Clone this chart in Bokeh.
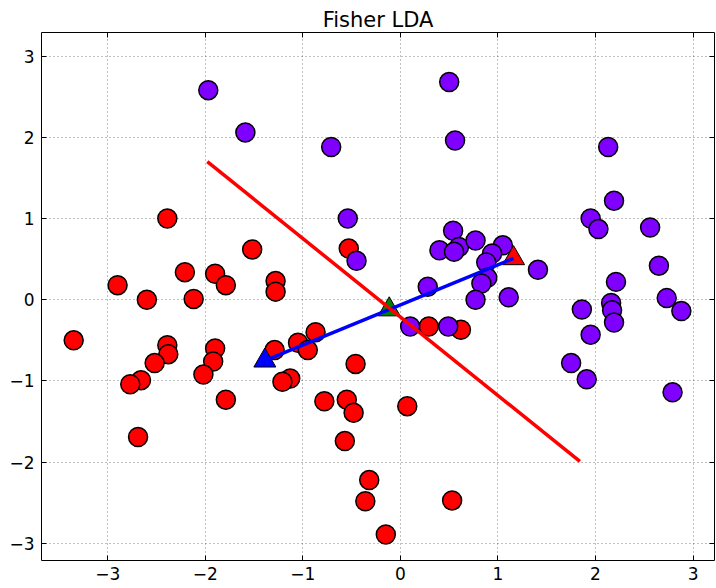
from bokeh.plotting import figure
from bokeh.models import FixedTicker, LinearAxis, Range1d
from bokeh.embed import file_html
from bokeh.resources import INLINE

# ---- data ----
red_x = [-2.39, -1.52, -2.90, -2.60, -2.21, -2.12, -1.90, -1.79, -1.28, -1.28,
         -0.53, -3.35, -2.39, -2.38, -2.52, -2.66, -2.77, -2.69, -1.90, -1.92,
         -2.02, -1.79, -1.29, -1.13, -1.21, -1.05, -0.95, -0.87, -0.46, -0.78,
         -0.55, -0.48, -0.57, 0.29, 0.62, 0.07, 0.53, -0.15, -0.32, -0.36]
red_y = [1.00, 0.62, 0.18, 0.00, 0.34, 0.01, 0.32, 0.18, 0.23, 0.10,
         0.63, -0.50, -0.56, -0.67, -0.78, -0.99, -1.04, -1.69, -0.60, -0.76,
         -0.92, -1.23, -0.62, -0.97, -1.01, -0.53, -0.62, -0.40, -0.79, -1.25,
         -1.23, -1.39, -1.74, -0.33, -0.37, -1.31, -2.47, -2.89, -2.22, -2.48]

purple_x = [-1.97, -1.59, -0.71, -0.54, -0.45, 0.50, 0.56, 2.13, 2.19, 1.95,
            2.03, 2.56, 2.65, 2.21, 2.73, 2.88, 1.86, 2.16, 2.17, 2.19,
            1.95, 1.75, 1.91, 2.79, 1.41, 0.28, 0.40, 0.54, 0.60, 0.55,
            0.77, 1.05, 0.94, 0.88, 0.89, 0.83, 0.77, 1.11, 0.10, 0.49]
purple_y = [2.58, 2.06, 1.88, 1.00, 0.48, 2.68, 1.96, 1.88, 1.22, 1.00,
            0.87, 0.89, 0.42, 0.22, 0.02, -0.14, -0.12, -0.04, -0.13, -0.28,
            -0.43, -0.78, -0.98, -1.14, 0.37, 0.16, 0.61, 0.85, 0.65, 0.59,
            0.73, 0.67, 0.57, 0.46, 0.27, 0.20, 0.00, 0.03, -0.33, -0.33]

# class means (triangles) and the projection direction line between them
mean_x = [-1.39, 1.16]
mean_y = [-0.75, 0.51]
mid_x = [(mean_x[0] + mean_x[1]) / 2]
mid_y = [(mean_y[0] + mean_y[1]) / 2]

# decision boundary line
sep_x = [-1.98, 1.84]
sep_y = [1.70, -1.99]

ticks = [-3, -2, -1, 0, 1, 2, 3]
tick_labels = ["\u22123", "\u22122", "\u22121", "0", "1", "2", "3"]

FONT = "DejaVu Sans"

p = figure(
    output_backend="svg", toolbar_location=None,
    width=716, height=588,
    x_range=Range1d(-3.68, 3.22), y_range=Range1d(-3.21, 3.29),
    title="Fisher LDA",
    min_border_left=41, min_border_right=2, min_border_top=32, min_border_bottom=28,
    background_fill_color="white", border_fill_color="white",
)
p.title.align = "center"
p.title.text_font = FONT
p.title.text_font_size = "21px"
p.title.text_font_style = "normal"
p.title.text_color = "black"
p.title.standoff = 2
p.title.offset = 0

p.outline_line_color = "black"
p.outline_line_width = 1
p.outline_line_alpha = 1

overrides = {t: l for t, l in zip(ticks, tick_labels)}
for ax in (p.xaxis[0], p.yaxis[0]):
    ax.ticker = FixedTicker(ticks=ticks)
    ax.major_label_overrides = overrides
    ax.major_label_text_font = FONT
    ax.major_label_text_font_size = "17px"
    ax.major_label_text_color = "black"
    ax.major_tick_in = 5
    ax.major_tick_out = 0
    ax.minor_tick_line_color = None
    ax.axis_line_color = None
    ax.major_tick_line_color = "black"
p.xaxis.major_label_standoff = 6
p.yaxis.major_label_standoff = 7

for loc in ("above", "right"):
    ax = LinearAxis(ticker=FixedTicker(ticks=ticks))
    ax.major_label_text_font_size = "0px"
    ax.major_label_standoff = 0
    ax.major_tick_in = 5
    ax.major_tick_out = 0
    ax.minor_tick_line_color = None
    ax.axis_line_color = None
    ax.major_label_text_alpha = 0
    p.add_layout(ax, loc)

for g in (p.xgrid[0], p.ygrid[0]):
    g.ticker = FixedTicker(ticks=ticks)
    g.grid_line_color = "black"
    g.grid_line_alpha = 0.5
    g.grid_line_width = 1
    g.grid_line_dash = "1 3"

p.scatter(red_x, red_y, size=19, fill_color="#ff0000", line_color="black", line_width=1.5)
p.scatter(purple_x, purple_y, size=19, fill_color="#7f00ff", line_color="black", line_width=1.5)

p.scatter([mean_x[0]], [mean_y[0]], marker="triangle", size=22, fill_color="#0000ff", line_color="black", line_width=1)
p.scatter([mean_x[1]], [mean_y[1]], marker="triangle", size=22, fill_color="#ff0000", line_color="black", line_width=1)
p.scatter(mid_x, mid_y, marker="triangle", size=22, fill_color="#008000", line_color="black", line_width=1)

p.line(mean_x, mean_y, line_color="#0000ff", line_width=3.5)
p.line(sep_x, sep_y, line_color="#ff0000", line_width=3.5)

open("out.html", "w").write(file_html(p, INLINE))
